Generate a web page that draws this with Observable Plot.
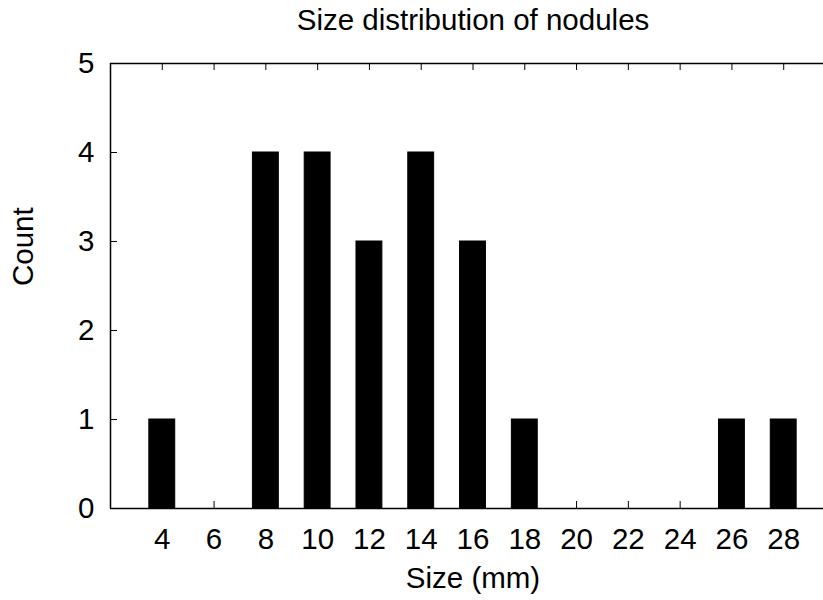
<!DOCTYPE html>
<html>
<head>
<meta charset="utf-8">
<script src="https://cdn.jsdelivr.net/npm/d3@7"></script>
<script src="https://cdn.jsdelivr.net/npm/@observablehq/plot@0.6"></script>
<style>
  body { margin: 0; background: #fff; }
  #chart svg { display: block; }
</style>
</head>
<body>
<div id="chart"></div>
<script>
// Nodule sizes (mm) and how many nodules fall in each size class
const sizes  = [4, 6, 8, 10, 12, 14, 16, 18, 20, 22, 24, 26, 28];
const counts = [1, 0, 4, 4, 3, 4, 3, 1, 0, 0, 0, 1, 1];

// Axis tick values
const xTicks = [4, 6, 8, 10, 12, 14, 16, 18, 20, 22, 24, 26, 28];
const yTicks = [0, 1, 2, 3, 4, 5];

const title  = "Size distribution of nodules";
const xLabel = "Size (mm)";
const yLabel = "Count";

const rows = sizes.map((s, i) => ({size: s, count: counts[i]}));

const W = 823, H = 600;
const mL = 110, mR = -12, mT = 63, mB = 92;
const frameW = W - mL - mR, frameH = H - mT - mB;
const tick = 7;
const font = "'Liberation Sans', Arial, Helvetica, sans-serif";

const chart = Plot.plot({
  width: W,
  height: H,
  marginLeft: mL,
  marginRight: mR,
  marginTop: mT,
  marginBottom: mB,
  style: {fontFamily: font, fontSize: "29.5px", background: "#fff", color: "#000"},
  x: {domain: [2, 30], axis: null},
  y: {domain: [0, 5], axis: null},
  marks: [
    // bars, one unit wide, centred on each size class
    Plot.rectY(rows, {
      x1: d => d.size - 0.5,
      x2: d => d.size + 0.5,
      y: "count",
      fill: "#000",
      stroke: "#000",
      strokeWidth: 1
    }),
    // inward ticks: bottom, top and left
    Plot.ruleX(xTicks, {x: d => d, insetTop: frameH - tick, stroke: "#000", strokeWidth: 1}),
    Plot.ruleX(xTicks, {x: d => d, insetBottom: frameH - tick, stroke: "#000", strokeWidth: 1}),
    Plot.ruleY(yTicks, {y: d => d, insetRight: frameW - tick, stroke: "#000", strokeWidth: 1}),
    // border
    Plot.ruleY([0, 5], {stroke: "#000", strokeWidth: 1.5}),
    Plot.ruleX([2], {stroke: "#000", strokeWidth: 1.5}),
    // tick labels
    Plot.text(xTicks, {x: d => d, text: d => String(d), frameAnchor: "bottom", lineAnchor: "middle", dy: 31}),
    Plot.text(yTicks, {y: d => d, text: d => String(d), frameAnchor: "left", lineAnchor: "middle", textAnchor: "end", dx: -16}),
    // title and axis labels
    Plot.text([title], {text: d => d, frameAnchor: "top", lineAnchor: "middle", dy: -43}),
    Plot.text([xLabel], {text: d => d, frameAnchor: "bottom", lineAnchor: "middle", dy: 70}),
    Plot.text([yLabel], {text: d => d, frameAnchor: "left", lineAnchor: "middle", rotate: -90, dx: -87})
  ]
});

document.getElementById("chart").append(chart);
</script>
</body>
</html>
